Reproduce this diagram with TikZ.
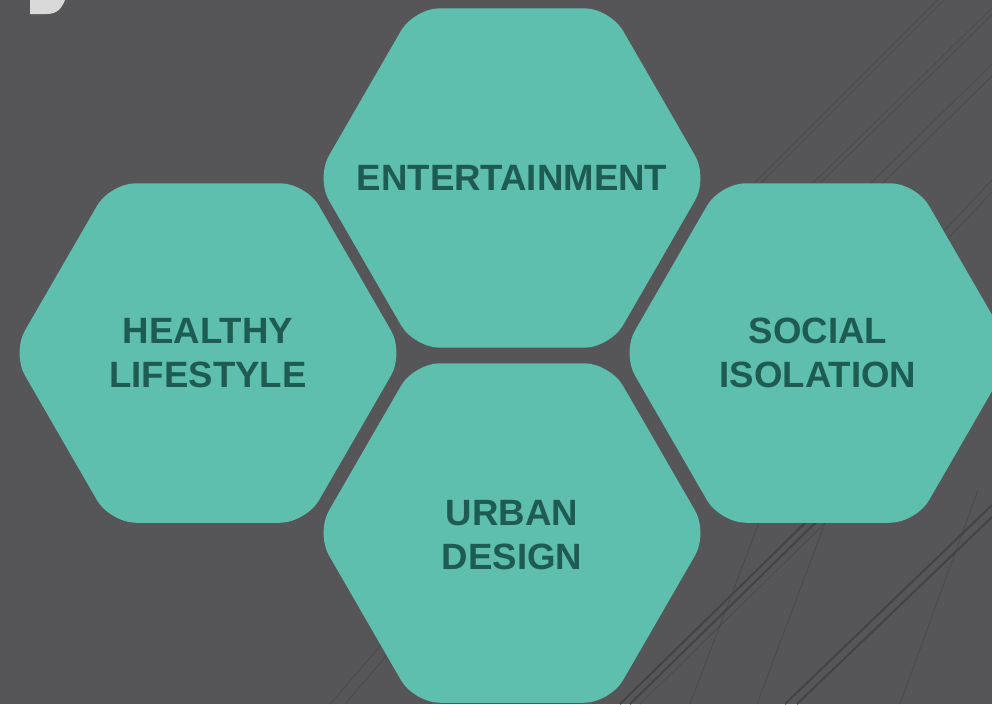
\documentclass[tikz,border=0pt]{standalone}
\usepackage{fontspec}
\setmainfont{Liberation Sans}
\usetikzlibrary{shapes.geometric}
\definecolor{bgc}{HTML}{565658}
\definecolor{hexc}{HTML}{5EBFAE}
\definecolor{txtc}{HTML}{1E5B52}
\definecolor{linec}{HTML}{424244}
\definecolor{glyphc}{HTML}{D9D9D9}
\tikzset{
  hexbox/.style={regular polygon, regular polygon sides=6, minimum size=392pt,
    inner sep=0pt, fill=hexc, draw=none, rounded corners=26pt},
  hextext/.style={text=txtc, font=\bfseries\fontsize{36.6}{43.5}\selectfont,
    align=center, inner sep=0pt},
  bgline/.style={draw=linec, line width=2pt, opacity=0.9},
  bgthin/.style={draw=linec, line width=0.7pt, opacity=0.65},
}
\begin{document}
\begin{tikzpicture}[x=1pt,y=-1pt]
\fill[bgc] (0,0) rectangle (992,704);
\useasboundingbox (0,0) rectangle (992,704);
% faint background strokes
\begin{scope}
\draw[bgthin] (745,192) -- (937,0);
\draw[bgthin] (752,192) -- (944,0);
\draw[bgthin] (810,186) -- (992,8);
\draw[bgthin] (817,186) -- (992,15);
\draw[bgthin] (868,186) -- (992,64);
\draw[bgthin] (876,190) -- (992,76);
\draw[bgthin] (915,262) -- (992,180);
\draw[bgthin] (922,266) -- (992,192);
\draw[bgline] (620,704) -- (992,340);
\draw[bgline] (630,704) -- (992,350);
\draw[bgthin] (640,704) -- (992,360);
\draw[bgline] (785,704) -- (992,505);
\draw[bgline] (797,704) -- (992,517);
\draw[bgthin] (757,704) -- (845,470);
\draw[bgthin] (900,704) -- (978,490);
\draw[bgthin] (690,704) -- (760,520);
\draw[bgthin] (330,704) -- (420,600);
\draw[bgthin] (345,704) -- (430,605);
\end{scope}
% top-left glyph fragment
\fill[glyphc] (30,0) -- (30,14) -- (47,14) .. controls (57,14) and (62,8) .. (65,0) -- cycle;
% hexagons
\node[hexbox] (ent) at (512,178) {};
\node[hexbox] (hl) at (208,353) {};
\node[hexbox] (si) at (818,353) {};
\node[hexbox] (ud) at (512,533) {};
% labels
\node[hextext] (entl) at (ent.center) {ENTERTAINMENT};
\node[hextext] (hll) at (hl.center) {HEALTHY\\LIFESTYLE};
\node[hextext] (sil) at (si.center) {SOCIAL\\ISOLATION};
\node[hextext] (udl) at ([yshift=-2pt]ud.center) {URBAN\\DESIGN};
\end{tikzpicture}
\end{document}
